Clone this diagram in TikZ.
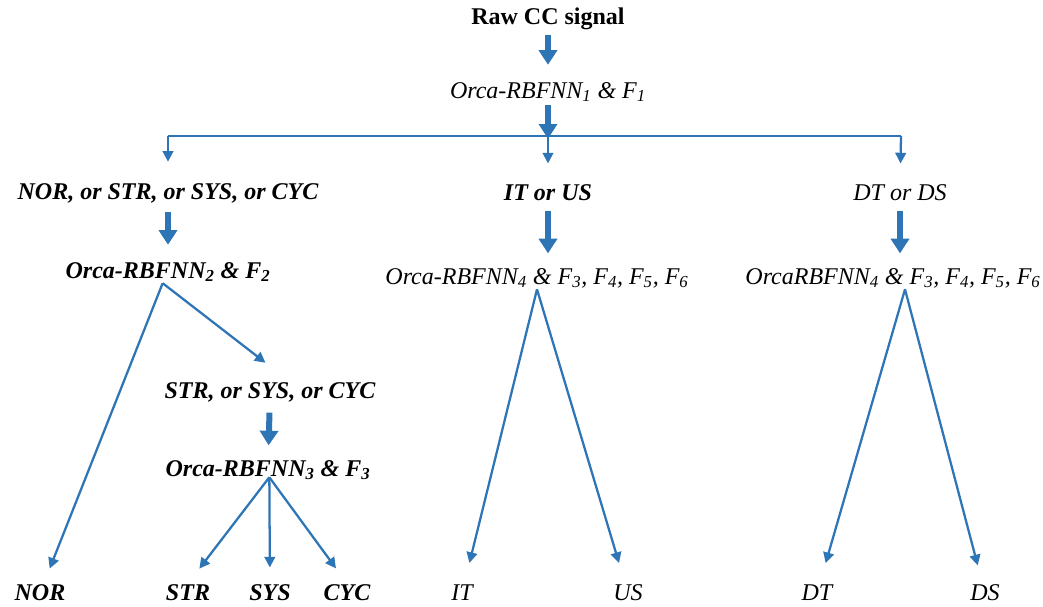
\documentclass[tikz,border=0pt]{standalone}
\usepackage{fontspec}
\setmainfont{Liberation Serif}
\usetikzlibrary{arrows.meta,positioning}
\definecolor{flowblue}{RGB}{46,117,182}
\tikzset{every picture/.style={line width=0.75pt}}

\begin{document}
\begin{tikzpicture}[x=0.75pt,y=0.75pt,yscale=-1,xscale=1,
  txt/.style={inner sep=0.75pt,font=\fontsize{18}{21}\selectfont\itshape},
  btxt/.style={inner sep=0.75pt,font=\fontsize{18}{21}\selectfont\bfseries\itshape},
  fat/.style={draw=flowblue,line width=4.5pt,-{Triangle[width=13.5pt,length=11pt]}},
  thin/.style={draw=flowblue,line width=1.7pt,-{Triangle[width=8pt,length=8pt]},shorten >=12pt}]
\useasboundingbox (0,0) rectangle (1043,607);

% top of the tree
\node [inner sep=0.75pt,font=\fontsize{18}{21}\selectfont\bfseries] (raw) at (548,19) {Raw CC signal};
\node [txt] (orcaA) at (548,92) {Orca-RBFNN\textsubscript{1} \& F\textsubscript{1}};
\coordinate (hub) at (548,136);
\coordinate (lft) at (168,136);
\coordinate (rgt) at (901,136);

% classes after the first net
\node [btxt] (catA) at (168,193) {NOR, or STR, or SYS, or CYC};
\node [btxt] (catB) at (548,193) {IT or US};
\node [txt] (catC) at (900,193) {DT or DS};

% second level nets
\node [btxt] (orcaB) at (168,272) {Orca-RBFNN\textsubscript{2} \& F\textsubscript{2}};
\node [txt] (orcaD) at (537,278) {Orca-RBFNN\textsubscript{4} \& F\textsubscript{3}, F\textsubscript{4}, F\textsubscript{5}, F\textsubscript{6}};
\node [txt] (orcaE) at (893,278) {OrcaRBFNN\textsubscript{4} \& F\textsubscript{3}, F\textsubscript{4}, F\textsubscript{5}, F\textsubscript{6}};
\node [btxt] (subA) at (270,392) {STR, or SYS, or CYC};
\node [btxt] (orcaC) at (268,470) {Orca-RBFNN\textsubscript{3} \& F\textsubscript{3}};

% leaves
\node [btxt] (nor) at (40,593) {NOR};
\node [btxt] (str) at (188,593) {STR};
\node [btxt] (sys) at (270,593) {SYS};
\node [btxt] (cyc) at (347,593) {CYC};
\node [txt] (it) at (462,593) {IT};
\node [txt] (us) at (628,593) {US};
\node [txt] (dt) at (817,593) {DT};
\node [txt] (ds) at (985,593) {DS};

% fat arrows
\draw [fat,shorten <=3pt,shorten >=12pt] (raw) -- (orcaA);
\draw [fat,shorten <=1pt,shorten >=-2pt] (orcaA) -- (hub);
\draw [fat,shorten <=6pt,shorten >=12pt] (catA) -- (orcaB);
\draw [fat,shorten <=6pt,shorten >=10pt] (catB.south) -- (catB.south |- orcaD.north);
\draw [fat,shorten <=6pt,shorten >=10pt] (catC.south) -- (catC.south |- orcaE.north);
\draw [fat,shorten <=7pt,shorten >=10pt] (subA) -- (orcaC);

% split line
\draw [draw=flowblue,line width=1.7pt] (lft) -- (rgt);
\draw [thin,shorten >=15pt] (lft) -- (catA);
\draw [thin,shorten >=15pt] (hub) -- (catB);
\draw [thin,shorten >=15pt] (rgt) -- (catC);

% thin arrows
\draw [thin] ([xshift=-4pt]orcaB.south) -- (nor);
\draw [thin,shorten >=22pt] ([xshift=-4pt]orcaB.south) -- ([xshift=14pt]subA.north);
\draw [thin,shorten >=14pt] ([xshift=1pt,yshift=-3pt]orcaC.south) -- (str.north);
\draw [thin] ([xshift=1pt,yshift=-3pt]orcaC.south) -- (sys);
\draw [thin,shorten >=14pt] ([xshift=1pt,yshift=-3pt]orcaC.south) -- (cyc.north);
\draw [thin,shorten >=16pt] (orcaD.south) -- (it);
\draw [thin,shorten >=16pt] (orcaD.south) -- (us);
\draw [thin,shorten >=16pt] ([xshift=9pt]orcaE.south) -- (dt);
\draw [thin,shorten >=14pt] ([xshift=9pt]orcaE.south) -- (ds);

\end{tikzpicture}
\end{document}
